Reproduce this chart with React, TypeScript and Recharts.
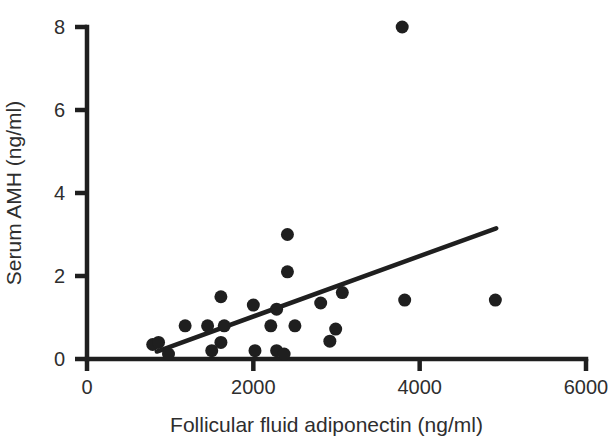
import { ScatterChart, Scatter, XAxis, YAxis, ReferenceLine } from 'recharts';

const adiponectin = [790, 860, 980, 1180, 1450, 1500, 1610, 1610, 1650, 2000, 2020, 2210, 2280, 2280, 2370, 2410, 2410, 2500, 2810, 2920, 2990, 3070, 3790, 3820, 4910];
const amh = [0.35, 0.4, 0.12, 0.8, 0.8, 0.2, 1.5, 0.4, 0.8, 1.3, 0.2, 0.8, 1.2, 0.2, 0.12, 3.0, 2.1, 0.8, 1.35, 0.43, 0.72, 1.6, 8.0, 1.42, 1.42];
const xTicks = [0, 2000, 4000, 6000];
const yTicks = [0, 2, 4, 6, 8];
const fitX = [840, 4920];
const fitY = [0.18, 3.15];

const points = adiponectin.map((x, i) => ({ x, y: amh[i] }));

const ink = '#1f1f1f';
const font = 'Liberation Sans, Arial, sans-serif';
const tickFont = { fill: '#2e2e2e', fontSize: 20, fontFamily: font };
const labelStyle = { fill: '#2e2e2e', fontSize: 21, fontFamily: font, textAnchor: 'middle' as const };
const TICK = 12;
const GAP_X = 9;
const GAP_Y = 10;
const W = 4.5;

// tick mark drawn together with its label so it can be thick
const XTick = (p: any) => (
  <g>
    <line x1={p.x} x2={p.x} y1={p.y - GAP_X - TICK} y2={p.y - GAP_X} stroke={ink} strokeWidth={W} />
    <text x={p.x} y={p.y} dy="0.71em" textAnchor="middle" {...tickFont}>{p.payload.value}</text>
  </g>
);

const YTick = (p: any) => (
  <g>
    <line x1={p.x + GAP_Y} x2={p.x + GAP_Y + TICK} y1={p.y} y2={p.y} stroke={ink} strokeWidth={W} />
    <text x={p.x} y={p.y} dy="0.355em" textAnchor="end" {...tickFont}>{p.payload.value}</text>
  </g>
);

const Dot = (p: any) => <circle cx={p.cx} cy={p.cy} r={6.5} fill={ink} />;

const App = () => {
  return (
    <div style={{ position: 'absolute', left: 0, top: 0, background: '#fff' }}>
      <ScatterChart width={613} height={436} margin={{ top: 27, right: 27, left: 0, bottom: 0 }}>
        <XAxis
          type="number"
          dataKey="x"
          domain={[0, 6000]}
          ticks={xTicks}
          height={77}
          axisLine={false}
          tickLine={false}
          tickSize={TICK}
          tickMargin={GAP_X}
          tick={XTick}
          label={{ value: 'Follicular fluid adiponectin (ng/ml)', position: 'insideBottom', offset: 4, dx: -10, style: labelStyle }}
        />
        <YAxis
          type="number"
          dataKey="y"
          domain={[0, 8]}
          ticks={yTicks}
          width={87}
          axisLine={false}
          tickLine={false}
          tickSize={TICK}
          tickMargin={GAP_Y}
          tick={YTick}
          label={{ value: 'Serum AMH (ng/ml)', angle: -90, position: 'insideLeft', offset: 14, style: labelStyle }}
        />
        <ReferenceLine y={0} stroke={ink} strokeWidth={W} strokeLinecap="square" />
        <ReferenceLine x={0} stroke={ink} strokeWidth={W} strokeLinecap="square" />
        <Scatter data={points} shape={Dot} isAnimationActive={false} />
        <ReferenceLine
          segment={[{ x: fitX[0], y: fitY[0] }, { x: fitX[1], y: fitY[1] }]}
          stroke={ink}
          strokeWidth={W}
          strokeLinecap="round"
        />
      </ScatterChart>
    </div>
  );
};

export default App;
